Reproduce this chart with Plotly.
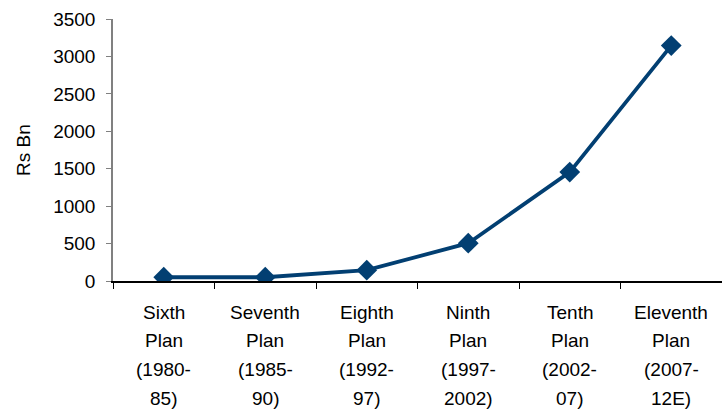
import plotly.graph_objects as go

# Plan periods and outlay (Rs Bn)
plan_names = ["Sixth", "Seventh", "Eighth", "Ninth", "Tenth", "Eleventh"]
plan_periods = ["(1980-", "(1985-", "(1992-", "(1997-", "(2002-", "(2007-"]
plan_period_ends = ["85)", "90)", "97)", "2002)", "07)", "12E)"]
outlay = [50, 50, 145, 505, 1455, 3145]

y_ticks = [0, 500, 1000, 1500, 2000, 2500, 3000, 3500]

line_color = "#023f72"
font_family = "Liberation Sans, Arial, sans-serif"
font_size = 19

x_idx = list(range(len(plan_names)))

fig = go.Figure()
fig.add_trace(go.Scatter(
    x=x_idx,
    y=outlay,
    mode="lines+markers",
    line=dict(color=line_color, width=3.8),
    marker=dict(symbol="diamond", size=16, color=line_color),
    showlegend=False,
))

# Category labels, one text row per annotation for wider line spacing
label_rows = [
    plan_names,
    ["Plan"] * len(plan_names),
    plan_periods,
    plan_period_ends,
]
annotations = []
for row_i, row in enumerate(label_rows):
    for xi, txt in zip(x_idx, row):
        annotations.append(dict(
            x=xi, y=0, xref="x", yref="y",
            text=txt, showarrow=False,
            xanchor="center", yanchor="middle",
            yshift=-(31 + 28.7 * row_i),
            font=dict(family=font_family, size=font_size, color="#000000"),
        ))

fig.update_layout(
    width=722,
    height=412,
    margin=dict(l=113, r=0, t=19, b=131),
    paper_bgcolor="white",
    plot_bgcolor="white",
    font=dict(family=font_family, size=font_size, color="#000000"),
    annotations=annotations,
    xaxis=dict(
        range=[-0.5, len(plan_names) - 0.5],
        tickmode="array",
        tickvals=[i - 0.5 for i in range(len(plan_names) + 1)],
        showticklabels=False,
        ticks="outside",
        ticklen=6,
        tickcolor="#000000",
        showline=True,
        linecolor="#000000",
        linewidth=1.5,
        showgrid=False,
        zeroline=False,
    ),
    yaxis=dict(
        range=[0, 3500],
        tickmode="array",
        tickvals=y_ticks,
        ticktext=[str(v) for v in y_ticks],
        ticks="outside",
        ticklen=5,
        tickcolor="#808080",
        ticklabelstandoff=7,
        showline=True,
        linecolor="#808080",
        linewidth=1.5,
        showgrid=False,
        zeroline=False,
        tickfont=dict(size=font_size),
        title=dict(text="Rs Bn", font=dict(size=font_size), standoff=18),
    ),
)

fig.write_html("out.html")
